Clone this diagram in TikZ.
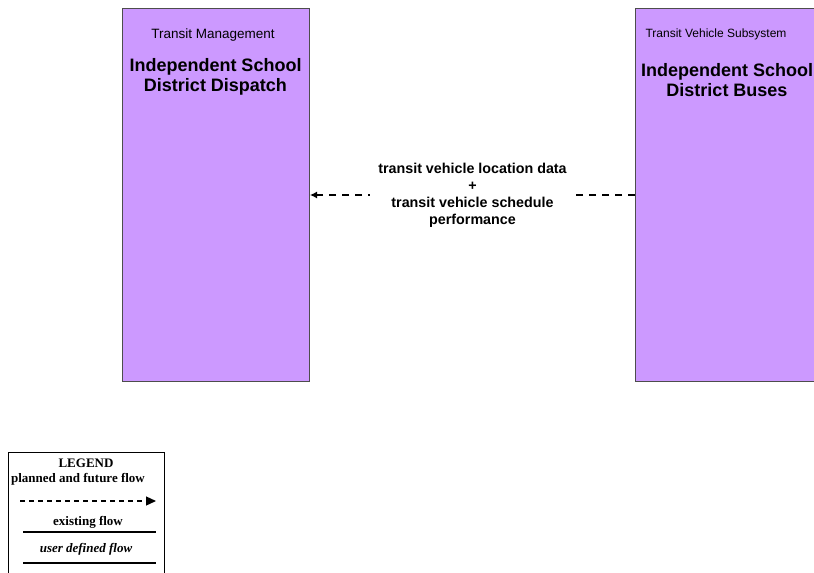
\documentclass[tikz,border=0pt]{standalone}
\usepackage{fontspec}
\setmainfont{Liberation Serif}
\setsansfont{Liberation Sans}
\usetikzlibrary{arrows.meta}

\definecolor{subsysfill}{HTML}{CC99FF}
\definecolor{subsysline}{HTML}{4D4D4D}

\tikzset{
  subsys/.style={draw=subsysline, fill=subsysfill, line width=1pt, anchor=north west,
    minimum width=187pt, minimum height=373pt, inner sep=0pt},
  classtext/.style={font=\sffamily\fontsize{13.5}{15}\selectfont},
  titletext/.style={font=\sffamily\bfseries\fontsize{18}{20}\selectfont, align=center},
  flowline/.style={line width=1.2pt, dash pattern=on 7pt off 6pt, -{Latex[length=7pt,width=7pt]}},
  flowlabel/.style={fill=white, align=center, inner xsep=8pt, inner ysep=4pt,
    font=\sffamily\bfseries\fontsize{14.3}{17}\selectfont},
  legendtext/.style={font=\bfseries\fontsize{13}{14}\selectfont},
  legendline/.style={line width=1.2pt}
}

\begin{document}
\begin{tikzpicture}[x=1pt, y=-1pt]
  \useasboundingbox (0,0) rectangle (814,573);
  \clip (0,0) rectangle (814,573);

  % subsystem boxes
  \node[subsys] (dispatch) at (122,8) {};
  \node[subsys] (buses) at (635,8) {};

  \node[classtext] (dispatchclass) at (213,35) {Transit Management};
  \node[titletext] (dispatchtitle) at (215.5,77) {Independent School\\District Dispatch};
  \node[classtext, font=\sffamily\fontsize{12}{14}\selectfont] (busesclass) at (716,34) {Transit Vehicle Subsystem};
  \node[titletext] (busestitle) at (727,80) {Independent School\\District Buses};

  % architecture flow
  \draw[flowline] (buses.west) -- node[flowlabel] (flowtext)
    {transit vehicle location data\\+\\transit vehicle schedule\\performance} (dispatch.east);

  % legend
  \node[draw, line width=0.8pt, anchor=north west, minimum width=156pt, minimum height=140pt,
    inner sep=0pt] (legend) at (8,452) {};
  \node[legendtext] (legendtitle) at (86,463) {LEGEND};
  \node[legendtext] (plannedtext) at (78,479) {planned and future flow};
  \node[legendtext] (existingtext) at (88,522) {existing flow};
  \node[legendtext] (usertext) at (86,549) {\itshape user defined flow};

  \coordinate (plannedA) at (20,501);
  \coordinate (plannedB) at (156,501);
  \coordinate (existingA) at (23,532);
  \coordinate (existingB) at (156,532);
  \coordinate (userA) at (23,563);
  \coordinate (userB) at (156,563);
  \draw[legendline, dash pattern=on 5pt off 4pt, -{Triangle[length=10pt,width=9pt]}] (plannedA) -- (plannedB);
  \draw[legendline] (existingA) -- (existingB);
  \draw[legendline] (userA) -- (userB);
\end{tikzpicture}
\end{document}
